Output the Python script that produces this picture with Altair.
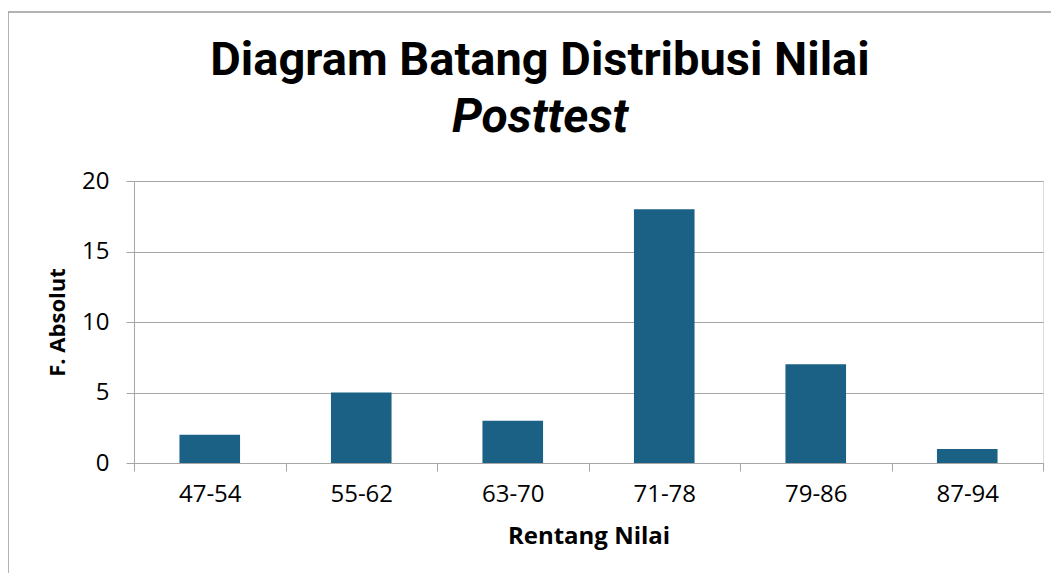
import altair as alt
import pandas as pd

categories = ["47-54", "55-62", "63-70", "71-78", "79-86", "87-94"]
frequencies = [2, 5, 3, 18, 7, 1]
title_line1 = "Diagram Batang Distribusi Nilai"
title_line2 = "Posttest"
x_title = "Rentang Nilai"
y_title = "F. Absolut"

df = pd.DataFrame({"Rentang": categories, "Frekuensi": frequencies})

GRAY = "#A6A6A6"
BAR = "#1A6185"
LABEL_FONT = "Open Sans"

bars = alt.Chart(df).mark_bar(color=BAR, width=alt.RelativeBandSize(0.4)).encode(
    x=alt.X(
        "Rentang:N",
        sort=categories,
        scale=alt.Scale(paddingInner=0, paddingOuter=0),
        axis=alt.Axis(
            title=x_title,
            labelAngle=0,
            tickBand="extent",
            tickSize=8,
            tickColor=GRAY,
            domainColor=GRAY,
            labelFont=LABEL_FONT,
            labelFontSize=24,
            labelColor="#000000",
            labelPadding=11,
            titleFont=LABEL_FONT,
            titleFontSize=24,
            titleFontWeight="bold",
            titleColor="#000000",
            titlePadding=18,
            grid=False,
        ),
    ),
    y=alt.Y(
        "Frekuensi:Q",
        scale=alt.Scale(domain=[0, 20]),
        axis=alt.Axis(
            title=y_title,
            values=[0, 5, 10, 15, 20],
            tickSize=8,
            tickColor=GRAY,
            domainColor=GRAY,
            gridColor=GRAY,
            labelFont=LABEL_FONT,
            labelFontSize=24,
            labelColor="#000000",
            labelPadding=17,
            titleFont=LABEL_FONT,
            titleFontSize=22,
            titleFontWeight="bold",
            titleColor="#000000",
            titlePadding=12,
        ),
    ),
)

frame = alt.Chart(alt.Data(values=[{"f": 1}])).mark_rect(
    fill=None, stroke="#9A9A9A", strokeWidth=1.5
).encode(
    x=alt.value(-126),
    x2=alt.value(1100),
    y=alt.value(-169),
    y2=alt.value(600),
)

t1 = alt.Chart(alt.Data(values=[{"t": title_line1}])).mark_text(
    font="Roboto", fontSize=47, fontWeight="bold", color="#000000",
    align="center", baseline="alphabetic",
).encode(text="t:N", x=alt.value(406), y=alt.value(-106))

t2 = alt.Chart(alt.Data(values=[{"t": title_line2}])).mark_text(
    font="Roboto", fontSize=48, fontWeight="bold", fontStyle="italic", color="#000000",
    align="center", baseline="alphabetic",
).encode(text="t:N", x=alt.value(406), y=alt.value(-49))

chart = alt.layer(frame, bars, t1, t2).properties(
    width=909,
    height=282,
    autosize=alt.AutoSizeParams(type="none"),
    padding={"left": 126, "top": 173, "right": 8, "bottom": 110},
).configure_view(stroke=None).configure(background="white")

chart.save("out.html", embed_options={"renderer": "svg", "actions": False})
